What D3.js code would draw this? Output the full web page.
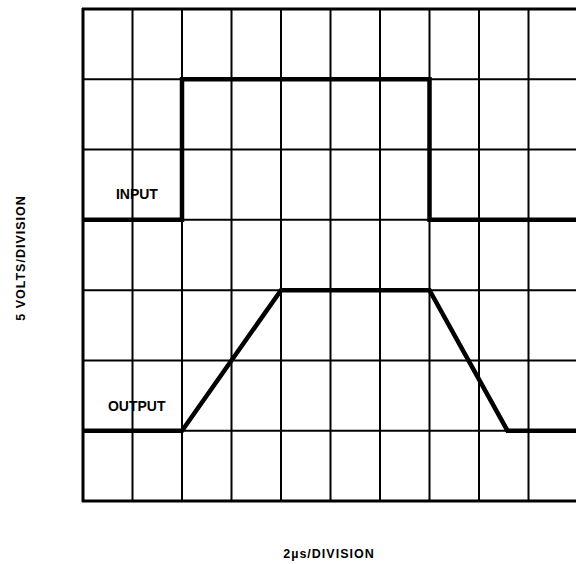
<!DOCTYPE html>
<html><head><meta charset="utf-8">
<script src="https://cdn.jsdelivr.net/npm/d3@7"></script>
<style>body{margin:0;background:#fff}svg{display:block}text{font-family:"Liberation Sans",Arial,sans-serif;font-weight:bold;fill:#000}</style>
</head><body><svg id="c" width="576" height="564"></svg>
<script>
// time in µs (2 µs/division), voltage in volts (5 V/division)
const xTicks = [0,2,4,6,8,10,12,14,16,18,20];
const yTicks = [0,5,10,15,20,25,30,35];
const inputT = [0,4,4,14,14,20];
const inputV = [20,20,30,30,20,20];
const outputT = [0,4,8,14,17.15,20];
const outputV = [5,5,15,15,5,5];
const labels = ["INPUT","OUTPUT"];
const labelT = [1.33,1.01];
const labelV = [21.48,6.42];

const svg = d3.select("#c");
const x = d3.scaleLinear().domain([0,20]).range([83,578]);
const y = d3.scaleLinear().domain([0,35]).range([501,9]);

const g = svg.append("g");
g.selectAll("line.v").data(xTicks).join("line")
  .attr("x1",d=>x(d)).attr("x2",d=>x(d)).attr("y1",y(0)+1).attr("y2",y(35)-1)
  .attr("stroke","#000").attr("stroke-width",(d,i)=>i===0||i===xTicks.length-1?3:2);
g.selectAll("line.h").data(yTicks).join("line")
  .attr("y1",d=>y(d)).attr("y2",d=>y(d)).attr("x1",x(0)-1).attr("x2",x(20)+1)
  .attr("stroke","#000").attr("stroke-width",(d,i)=>i===0||i===yTicks.length-1?3:2);

const line = d3.line().x(d=>x(d[0])).y(d=>y(d[1]));
svg.append("path").datum(inputT.map((t,i)=>[t,inputV[i]])).attr("d",line)
  .attr("fill","none").attr("stroke","#000").attr("stroke-width",4.5).attr("stroke-linejoin","miter");
svg.append("path").datum(outputT.map((t,i)=>[t,outputV[i]])).attr("d",line)
  .attr("fill","none").attr("stroke","#000").attr("stroke-width",4.5).attr("stroke-linejoin","miter");

svg.selectAll("text.lab").data(labels).join("text")
  .attr("x",(d,i)=>x(labelT[i])).attr("y",(d,i)=>y(labelV[i]))
  .attr("font-size",14).text(d=>d);

svg.append("text").attr("x",329).attr("y",558).attr("text-anchor","middle")
  .attr("font-size",12.5).attr("letter-spacing",1).text("2µs/DIVISION");
svg.append("text").attr("transform","translate(25,258) rotate(-90)").attr("text-anchor","middle")
  .attr("font-size",12.5).attr("letter-spacing",1).text("5 VOLTS/DIVISION");
</script></body></html>
